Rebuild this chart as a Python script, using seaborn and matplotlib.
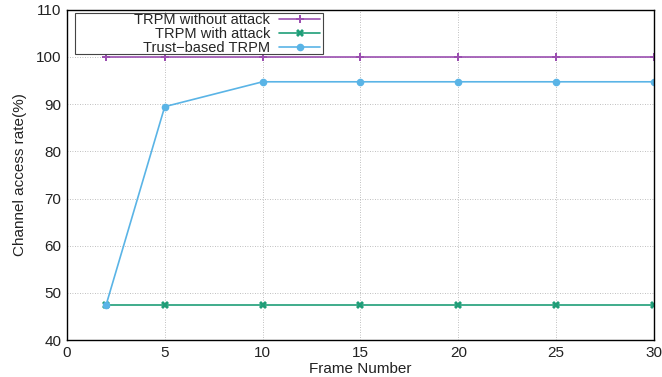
import matplotlib
matplotlib.use("Agg")
import matplotlib.pyplot as plt
from matplotlib.patches import Rectangle
import seaborn as sns
import pandas as pd

frames = [2, 5, 10, 15, 20, 25, 30]
without_attack = [100, 100, 100, 100, 100, 100, 100]
with_attack = [47.37, 47.37, 47.37, 47.37, 47.37, 47.37, 47.37]
trust_based = [47.37, 89.47, 94.74, 94.74, 94.74, 94.74, 94.74]
labels = ["TRPM without attack", "TRPM with attack", "Trust\u2212based TRPM"]
colors = ["#9b4fb0", "#1f9e78", "#5ab4e6"]
markers = ["P", "X", "o"]

sns.set_style("white")
plt.rcParams['font.family'] = ['Liberation Sans', 'DejaVu Sans']

fig = plt.figure(figsize=(6.62, 3.77), dpi=100)
ax = fig.add_axes([0.101, 0.098, 0.887, 0.876])

for vals, lab, c, m in zip([without_attack, with_attack, trust_based], labels, colors, markers):
    df = pd.DataFrame({"Frame": frames, "Rate": vals})
    sns.lineplot(data=df, x="Frame", y="Rate", ax=ax, color=c, marker=m,
                 markersize=5.5, markeredgewidth=0, linewidth=1.2, label=lab)

ax.set_xlim(0, 30)
ax.set_ylim(40, 110)
ax.set_xticks([0, 5, 10, 15, 20, 25, 30])
ax.set_yticks([40, 50, 60, 70, 80, 90, 100, 110])
ax.grid(True, linestyle=(0, (1, 2)), color="#aaaaaa", linewidth=0.6)
for s in ax.spines.values():
    s.set_color("black")
    s.set_linewidth(1.0)
ax.tick_params(axis="both", labelsize=11, colors="#222222", length=0, pad=4)
ax.set_xlabel("Frame Number", fontsize=11, color="#222222", labelpad=2)
ax.set_ylabel("Channel access rate(%)", fontsize=11, color="#222222", labelpad=6)

# legend box (gnuplot-style key)
box = Rectangle((0.0136, 0.866), 0.422, 0.125, transform=ax.transAxes,
                facecolor="white", edgecolor="#444444", linewidth=0.8, zorder=4)
ax.add_patch(box)
leg = ax.legend(loc="upper right", markerfirst=False, fontsize=10.5, frameon=False,
                borderpad=0.0, labelspacing=0.0,
                handlelength=2.8, handletextpad=0.6, borderaxespad=0.0,
                bbox_to_anchor=(0.431, 0.991))
leg.set_zorder(5)
for t in leg.get_texts():
    t.set_ha("right")
leg._legend_box.align = "right"

fig.savefig("out.png", dpi=100)
